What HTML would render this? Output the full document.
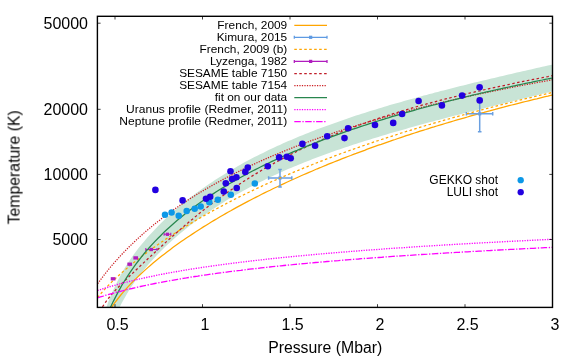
<!DOCTYPE html>
<html><head><meta charset="utf-8"><title>plot</title>
<style>html,body{margin:0;padding:0;background:#fff}body{width:581px;height:359px;overflow:hidden}</style>
</head><body>
<svg width="581" height="359" viewBox="0 0 581 359" style="display:block;font-family:'Liberation Sans',sans-serif">
<rect width="581" height="359" fill="#fff"/>
<defs><clipPath id="c"><rect x="97.4" y="16.3" width="455.1" height="291.09999999999997"/></clipPath></defs>
<g clip-path="url(#c)" fill="none">
<path d="M105.0,311.5 L107.8,303.3 L110.6,296.0 L113.5,289.4 L116.3,283.4 L119.1,277.9 L121.9,272.8 L124.7,268.0 L127.6,263.5 L130.4,259.3 L133.2,255.3 L136.0,251.4 L138.8,247.8 L141.7,244.2 L144.5,240.9 L147.3,237.6 L150.1,234.4 L153.0,231.4 L155.8,228.4 L158.6,225.5 L161.4,222.7 L164.2,220.0 L167.1,217.3 L169.9,214.7 L172.7,212.2 L175.5,209.7 L178.3,207.3 L181.2,204.9 L184.0,202.6 L186.8,200.3 L189.6,198.1 L192.4,195.9 L195.3,193.8 L198.1,191.7 L200.9,189.7 L203.7,187.7 L206.5,185.7 L209.4,183.8 L212.2,181.9 L215.0,180.0 L217.8,178.2 L220.7,176.4 L223.5,174.7 L226.3,172.9 L229.1,171.2 L231.9,169.6 L234.8,167.9 L237.6,166.3 L240.4,164.7 L243.2,163.1 L246.0,161.6 L248.9,160.1 L251.7,158.6 L254.5,157.1 L257.3,155.7 L260.1,154.3 L263.0,152.9 L265.8,151.5 L268.6,150.1 L271.4,148.8 L274.2,147.4 L277.1,146.1 L279.9,144.9 L282.7,143.6 L285.5,142.3 L288.3,141.1 L291.2,139.9 L294.0,138.7 L296.8,137.5 L299.6,136.3 L302.5,135.2 L305.3,134.0 L308.1,132.9 L310.9,131.8 L313.7,130.7 L316.6,129.6 L319.4,128.5 L322.2,127.5 L325.0,126.4 L327.8,125.4 L330.7,124.4 L333.5,123.4 L336.3,122.4 L339.1,121.4 L341.9,120.4 L344.8,119.4 L347.6,118.5 L350.4,117.5 L353.2,116.6 L356.0,115.6 L358.9,114.7 L361.7,113.8 L364.5,112.9 L367.3,112.0 L370.2,111.1 L373.0,110.3 L375.8,109.4 L378.6,108.5 L381.4,107.7 L384.3,106.8 L387.1,106.0 L389.9,105.1 L392.7,104.3 L395.5,103.5 L398.4,102.7 L401.2,101.9 L404.0,101.1 L406.8,100.3 L409.6,99.5 L412.5,98.7 L415.3,97.9 L418.1,97.1 L420.9,96.4 L423.7,95.6 L426.6,94.9 L429.4,94.1 L432.2,93.4 L435.0,92.6 L437.8,91.9 L440.7,91.1 L443.5,90.4 L446.3,89.7 L449.1,89.0 L452.0,88.2 L454.8,87.5 L457.6,86.8 L460.4,86.1 L463.2,85.4 L466.1,84.7 L468.9,84.0 L471.7,83.3 L474.5,82.6 L477.3,82.0 L480.2,81.3 L483.0,80.6 L485.8,79.9 L488.6,79.2 L491.4,78.6 L494.3,77.9 L497.1,77.2 L499.9,76.6 L502.7,75.9 L505.5,75.2 L508.4,74.6 L511.2,73.9 L514.0,73.3 L516.8,72.6 L519.7,72.0 L522.5,71.3 L525.3,70.7 L528.1,70.0 L530.9,69.4 L533.8,68.7 L536.6,68.1 L539.4,67.5 L542.2,66.8 L545.0,66.2 L547.9,65.6 L550.7,64.9 L553.5,64.3 L553.5,91.1 L550.8,91.8 L548.0,92.5 L545.3,93.1 L542.6,93.8 L539.8,94.5 L537.1,95.2 L534.3,95.8 L531.6,96.5 L528.9,97.2 L526.1,97.8 L523.4,98.5 L520.7,99.2 L517.9,99.8 L515.2,100.5 L512.5,101.2 L509.7,101.9 L507.0,102.5 L504.3,103.2 L501.5,103.9 L498.8,104.6 L496.0,105.2 L493.3,105.9 L490.6,106.6 L487.8,107.3 L485.1,108.0 L482.4,108.7 L479.6,109.3 L476.9,110.0 L474.2,110.7 L471.4,111.4 L468.7,112.1 L466.0,112.8 L463.2,113.5 L460.5,114.2 L457.7,114.9 L455.0,115.6 L452.3,116.3 L449.5,117.0 L446.8,117.8 L444.1,118.5 L441.3,119.2 L438.6,119.9 L435.9,120.6 L433.1,121.4 L430.4,122.1 L427.7,122.8 L424.9,123.6 L422.2,124.3 L419.4,125.1 L416.7,125.8 L414.0,126.6 L411.2,127.3 L408.5,128.1 L405.8,128.9 L403.0,129.7 L400.3,130.4 L397.6,131.2 L394.8,132.0 L392.1,132.8 L389.3,133.6 L386.6,134.4 L383.9,135.2 L381.1,136.0 L378.4,136.9 L375.7,137.7 L372.9,138.5 L370.2,139.4 L367.5,140.2 L364.7,141.1 L362.0,142.0 L359.3,142.8 L356.5,143.7 L353.8,144.6 L351.0,145.5 L348.3,146.4 L345.6,147.3 L342.8,148.3 L340.1,149.2 L337.4,150.1 L334.6,151.1 L331.9,152.1 L329.2,153.0 L326.4,154.0 L323.7,155.0 L321.0,156.0 L318.2,157.1 L315.5,158.1 L312.7,159.1 L310.0,160.2 L307.3,161.2 L304.5,162.3 L301.8,163.4 L299.1,164.5 L296.3,165.7 L293.6,166.8 L290.9,167.9 L288.1,169.1 L285.4,170.3 L282.7,171.5 L279.9,172.7 L277.2,173.9 L274.4,175.2 L271.7,176.5 L269.0,177.8 L266.2,179.1 L263.5,180.4 L260.8,181.7 L258.0,183.1 L255.3,184.5 L252.6,185.9 L249.8,187.3 L247.1,188.8 L244.3,190.2 L241.6,191.7 L238.9,193.3 L236.1,194.8 L233.4,196.4 L230.7,198.0 L227.9,199.6 L225.2,201.3 L222.5,203.0 L219.7,204.7 L217.0,206.4 L214.3,208.2 L211.5,210.0 L208.8,211.9 L206.0,213.7 L203.3,215.6 L200.6,217.6 L197.8,219.6 L195.1,221.6 L192.4,223.7 L189.6,225.8 L186.9,228.0 L184.2,230.2 L181.4,232.4 L178.7,234.7 L176.0,237.1 L173.2,239.5 L170.5,241.9 L167.7,244.5 L165.0,247.1 L162.3,249.7 L159.5,252.5 L156.8,255.3 L154.1,258.2 L151.3,261.2 L148.6,264.2 L145.9,267.4 L143.1,270.8 L140.4,274.2 L137.7,277.8 L134.9,281.6 L132.2,285.6 L129.4,289.8 L126.7,294.2 L124.0,299.0 L121.2,304.1 L118.5,309.6Z" fill="#c8e4d6" stroke="none"/>
<path d="M111.7,307.1 L114.5,303.2 L117.3,299.5 L120.0,296.0 L122.8,292.6 L125.6,289.5 L128.4,286.4 L131.2,283.4 L133.9,280.6 L136.7,277.9 L139.5,275.2 L142.3,272.6 L145.0,270.1 L147.8,267.6 L150.6,265.2 L153.4,262.8 L156.2,260.5 L158.9,258.3 L161.7,256.1 L164.5,253.9 L167.3,251.8 L170.1,249.7 L172.8,247.6 L175.6,245.6 L178.4,243.6 L181.2,241.6 L183.9,239.7 L186.7,237.8 L189.5,235.9 L192.3,234.1 L195.1,232.3 L197.8,230.5 L200.6,228.7 L203.4,226.9 L206.2,225.2 L209.0,223.5 L211.7,221.8 L214.5,220.1 L217.3,218.5 L220.1,216.8 L222.8,215.2 L225.6,213.6 L228.4,212.0 L231.2,210.5 L234.0,208.9 L236.7,207.4 L239.5,205.9 L242.3,204.4 L245.1,202.9 L247.9,201.4 L250.6,200.0 L253.4,198.5 L256.2,197.1 L259.0,195.7 L261.7,194.3 L264.5,192.9 L267.3,191.5 L270.1,190.2 L272.9,188.8 L275.6,187.5 L278.4,186.2 L281.2,184.9 L284.0,183.6 L286.8,182.3 L289.5,181.0 L292.3,179.7 L295.1,178.5 L297.9,177.2 L300.6,176.0 L303.4,174.8 L306.2,173.6 L309.0,172.4 L311.8,171.2 L314.5,170.0 L317.3,168.8 L320.1,167.7 L322.9,166.5 L325.7,165.4 L328.4,164.2 L331.2,163.1 L334.0,162.0 L336.8,160.9 L339.5,159.8 L342.3,158.7 L345.1,157.6 L347.9,156.5 L350.7,155.5 L353.4,154.4 L356.2,153.4 L359.0,152.3 L361.8,151.3 L364.6,150.3 L367.3,149.2 L370.1,148.2 L372.9,147.2 L375.7,146.2 L378.4,145.2 L381.2,144.3 L384.0,143.3 L386.8,142.3 L389.6,141.4 L392.3,140.4 L395.1,139.5 L397.9,138.5 L400.7,137.6 L403.5,136.7 L406.2,135.7 L409.0,134.8 L411.8,133.9 L414.6,133.0 L417.3,132.1 L420.1,131.2 L422.9,130.3 L425.7,129.5 L428.5,128.6 L431.2,127.7 L434.0,126.9 L436.8,126.0 L439.6,125.2 L442.4,124.3 L445.1,123.5 L447.9,122.7 L450.7,121.8 L453.5,121.0 L456.2,120.2 L459.0,119.4 L461.8,118.6 L464.6,117.8 L467.4,117.0 L470.1,116.2 L472.9,115.4 L475.7,114.7 L478.5,113.9 L481.3,113.1 L484.0,112.4 L486.8,111.6 L489.6,110.9 L492.4,110.1 L495.1,109.4 L497.9,108.6 L500.7,107.9 L503.5,107.2 L506.3,106.4 L509.0,105.7 L511.8,105.0 L514.6,104.3 L517.4,103.6 L520.2,102.9 L522.9,102.2 L525.7,101.5 L528.5,100.8 L531.3,100.1 L534.0,99.4 L536.8,98.8 L539.6,98.1 L542.4,97.4 L545.2,96.7 L547.9,96.1 L550.7,95.4 L553.5,94.8" stroke="#ffa500" stroke-width="1.25"/>
<g stroke="#6a9fe0" stroke-width="1.5"><path d="M268.6,178H291.8M268.6,176.2v3.6M291.8,176.2v3.6M280,169.5V187.0M278.2,169.5h3.6M278.2,187.0h3.6"/></g>
<rect x="278.4" y="176.4" width="3.2" height="3.2" fill="#6a9fe0"/>
<g stroke="#6a9fe0" stroke-width="1.5"><path d="M466.4,113.8H492.7M466.4,112.0v3.6M492.7,112.0v3.6M479.7,98.8V131.7M477.9,98.8h3.6M477.9,131.7h3.6"/></g>
<rect x="478.09999999999997" y="112.2" width="3.2" height="3.2" fill="#6a9fe0"/>
<path d="M97.5,297.5 L100.4,294.1 L103.2,290.9 L106.1,287.8 L109.0,284.8 L111.8,281.9 L114.7,279.2 L117.6,276.5 L120.4,273.9 L123.3,271.4 L126.2,268.9 L129.0,266.5 L131.9,264.1 L134.8,261.8 L137.7,259.5 L140.5,257.3 L143.4,255.1 L146.3,253.0 L149.1,250.8 L152.0,248.8 L154.9,246.7 L157.7,244.7 L160.6,242.7 L163.5,240.8 L166.3,238.8 L169.2,236.9 L172.1,235.1 L174.9,233.2 L177.8,231.4 L180.7,229.6 L183.5,227.8 L186.4,226.0 L189.3,224.3 L192.1,222.6 L195.0,220.9 L197.9,219.2 L200.7,217.6 L203.6,215.9 L206.5,214.3 L209.3,212.7 L212.2,211.1 L215.1,209.5 L218.0,208.0 L220.8,206.5 L223.7,205.0 L226.6,203.4 L229.4,202.0 L232.3,200.5 L235.2,199.0 L238.0,197.6 L240.9,196.2 L243.8,194.8 L246.6,193.4 L249.5,192.0 L252.4,190.6 L255.2,189.2 L258.1,187.9 L261.0,186.6 L263.8,185.2 L266.7,183.9 L269.6,182.6 L272.4,181.3 L275.3,180.1 L278.2,178.8 L281.0,177.6 L283.9,176.3 L286.8,175.1 L289.7,173.9 L292.5,172.7 L295.4,171.5 L298.3,170.3 L301.1,169.1 L304.0,167.9 L306.9,166.8 L309.7,165.6 L312.6,164.5 L315.5,163.3 L318.3,162.2 L321.2,161.1 L324.1,160.0 L326.9,158.9 L329.8,157.8 L332.7,156.7 L335.5,155.6 L338.4,154.6 L341.3,153.5 L344.1,152.5 L347.0,151.4 L349.9,150.4 L352.7,149.4 L355.6,148.4 L358.5,147.4 L361.3,146.3 L364.2,145.4 L367.1,144.4 L370.0,143.4 L372.8,142.4 L375.7,141.4 L378.6,140.5 L381.4,139.5 L384.3,138.6 L387.2,137.6 L390.0,136.7 L392.9,135.8 L395.8,134.9 L398.6,133.9 L401.5,133.0 L404.4,132.1 L407.2,131.2 L410.1,130.4 L413.0,129.5 L415.8,128.6 L418.7,127.7 L421.6,126.8 L424.4,126.0 L427.3,125.1 L430.2,124.3 L433.0,123.4 L435.9,122.6 L438.8,121.8 L441.7,120.9 L444.5,120.1 L447.4,119.3 L450.3,118.5 L453.1,117.7 L456.0,116.9 L458.9,116.1 L461.7,115.3 L464.6,114.5 L467.5,113.7 L470.3,112.9 L473.2,112.1 L476.1,111.4 L478.9,110.6 L481.8,109.8 L484.7,109.1 L487.5,108.3 L490.4,107.6 L493.3,106.8 L496.1,106.1 L499.0,105.4 L501.9,104.6 L504.7,103.9 L507.6,103.2 L510.5,102.5 L513.3,101.8 L516.2,101.0 L519.1,100.3 L522.0,99.6 L524.8,98.9 L527.7,98.3 L530.6,97.6 L533.4,96.9 L536.3,96.2 L539.2,95.5 L542.0,94.8 L544.9,94.2 L547.8,93.5 L550.6,92.8 L553.5,92.2" stroke="#ffa500" stroke-width="1.25" stroke-dasharray="2.55,2.42"/>
<rect x="110.75" y="277.15" width="4.7" height="3.3" fill="#b01cbe"/>
<rect x="127.35" y="262.55" width="4.7" height="3.3" fill="#b01cbe"/>
<rect x="133.35" y="256.25" width="4.7" height="3.3" fill="#b01cbe"/>
<path d="M145.8,249.5H157.0M145.8,248.0v3M157.0,248.0v3" stroke="#b01cbe" stroke-width="1.1"/>
<rect x="149.80" y="247.85" width="3.2" height="3.3" fill="#b01cbe"/>
<path d="M164.1,234.3H170.8M164.1,232.8v3M170.8,232.8v3" stroke="#b01cbe" stroke-width="1.1"/>
<rect x="165.80" y="232.65" width="3.2" height="3.3" fill="#b01cbe"/>
<path d="M102.5,306.9 L105.3,302.5 L108.2,298.7 L111.0,295.2 L113.8,292.0 L116.7,288.9 L119.5,286.0 L122.4,283.2 L125.2,280.4 L128.0,277.6 L130.9,274.9 L133.7,272.2 L136.5,269.5 L139.4,266.8 L142.2,264.2 L145.0,261.5 L147.9,258.8 L150.7,256.2 L153.6,253.5 L156.4,250.9 L159.2,248.3 L162.1,245.7 L164.9,243.1 L167.7,240.5 L170.6,238.0 L173.4,235.5 L176.2,233.0 L179.1,230.5 L181.9,228.0 L184.8,225.6 L187.6,223.2 L190.4,220.8 L193.3,218.5 L196.1,216.1 L198.9,213.8 L201.8,211.6 L204.6,209.3 L207.4,207.1 L210.3,204.9 L213.1,202.8 L216.0,200.7 L218.8,198.6 L221.6,196.5 L224.5,194.5 L227.3,192.5 L230.1,190.5 L233.0,188.5 L235.8,186.6 L238.7,184.7 L241.5,182.8 L244.3,181.0 L247.2,179.2 L250.0,177.4 L252.8,175.6 L255.7,173.9 L258.5,172.2 L261.3,170.5 L264.2,168.8 L267.0,167.2 L269.9,165.6 L272.7,164.0 L275.5,162.4 L278.4,160.9 L281.2,159.4 L284.0,157.9 L286.9,156.4 L289.7,154.9 L292.5,153.5 L295.4,152.1 L298.2,150.7 L301.1,149.3 L303.9,148.0 L306.7,146.6 L309.6,145.3 L312.4,144.0 L315.2,142.8 L318.1,141.5 L320.9,140.3 L323.7,139.0 L326.6,137.8 L329.4,136.6 L332.3,135.5 L335.1,134.3 L337.9,133.2 L340.8,132.0 L343.6,130.9 L346.4,129.8 L349.3,128.8 L352.1,127.7 L354.9,126.6 L357.8,125.6 L360.6,124.6 L363.5,123.6 L366.3,122.6 L369.1,121.6 L372.0,120.6 L374.8,119.6 L377.6,118.7 L380.5,117.8 L383.3,116.8 L386.1,115.9 L389.0,115.0 L391.8,114.1 L394.7,113.2 L397.5,112.4 L400.3,111.5 L403.2,110.6 L406.0,109.8 L408.8,109.0 L411.7,108.1 L414.5,107.3 L417.3,106.5 L420.2,105.7 L423.0,104.9 L425.9,104.2 L428.7,103.4 L431.5,102.6 L434.4,101.9 L437.2,101.1 L440.0,100.4 L442.9,99.7 L445.7,98.9 L448.6,98.2 L451.4,97.5 L454.2,96.8 L457.1,96.1 L459.9,95.4 L462.7,94.7 L465.6,94.1 L468.4,93.4 L471.2,92.7 L474.1,92.1 L476.9,91.4 L479.8,90.8 L482.6,90.1 L485.4,89.5 L488.3,88.8 L491.1,88.2 L493.9,87.6 L496.8,87.0 L499.6,86.4 L502.4,85.8 L505.3,85.2 L508.1,84.6 L511.0,84.0 L513.8,83.4 L516.6,82.8 L519.5,82.2 L522.3,81.6 L525.1,81.0 L528.0,80.5 L530.8,79.9 L533.6,79.3 L536.5,78.8 L539.3,78.2 L542.2,77.7 L545.0,77.1 L547.8,76.6 L550.7,76.0 L553.5,75.5" stroke="#c01c28" stroke-width="1.25" stroke-dasharray="2.55,2.42"/>
<path d="M97.7,283.6 L100.6,279.6 L103.4,275.9 L106.3,272.2 L109.2,268.7 L112.0,265.3 L114.9,262.0 L117.8,258.8 L120.6,255.6 L123.5,252.6 L126.4,249.6 L129.2,246.8 L132.1,244.0 L135.0,241.2 L137.8,238.6 L140.7,236.0 L143.6,233.4 L146.4,230.9 L149.3,228.5 L152.2,226.1 L155.0,223.8 L157.9,221.5 L160.8,219.3 L163.6,217.1 L166.5,214.9 L169.4,212.8 L172.2,210.8 L175.1,208.7 L178.0,206.7 L180.8,204.8 L183.7,202.9 L186.6,201.0 L189.4,199.1 L192.3,197.3 L195.2,195.5 L198.0,193.7 L200.9,192.0 L203.8,190.3 L206.6,188.6 L209.5,187.0 L212.4,185.3 L215.2,183.7 L218.1,182.1 L221.0,180.6 L223.8,179.0 L226.7,177.5 L229.6,176.0 L232.4,174.6 L235.3,173.1 L238.2,171.7 L241.0,170.3 L243.9,168.9 L246.8,167.5 L249.6,166.2 L252.5,164.8 L255.4,163.5 L258.2,162.2 L261.1,160.9 L264.0,159.6 L266.8,158.4 L269.7,157.1 L272.6,155.9 L275.4,154.7 L278.3,153.5 L281.2,152.3 L284.0,151.2 L286.9,150.0 L289.8,148.9 L292.6,147.7 L295.5,146.6 L298.4,145.5 L301.2,144.4 L304.1,143.4 L307.0,142.3 L309.8,141.2 L312.7,140.2 L315.6,139.2 L318.4,138.1 L321.3,137.1 L324.2,136.1 L327.0,135.1 L329.9,134.2 L332.8,133.2 L335.6,132.2 L338.5,131.3 L341.4,130.3 L344.2,129.4 L347.1,128.5 L350.0,127.6 L352.8,126.7 L355.7,125.8 L358.6,124.9 L361.4,124.0 L364.3,123.2 L367.2,122.3 L370.0,121.4 L372.9,120.6 L375.8,119.8 L378.6,118.9 L381.5,118.1 L384.4,117.3 L387.2,116.5 L390.1,115.7 L393.0,114.9 L395.8,114.1 L398.7,113.4 L401.6,112.6 L404.4,111.8 L407.3,111.1 L410.2,110.3 L413.0,109.6 L415.9,108.8 L418.8,108.1 L421.6,107.4 L424.5,106.7 L427.4,105.9 L430.2,105.2 L433.1,104.5 L436.0,103.8 L438.8,103.2 L441.7,102.5 L444.6,101.8 L447.4,101.1 L450.3,100.5 L453.2,99.8 L456.0,99.1 L458.9,98.5 L461.8,97.9 L464.6,97.2 L467.5,96.6 L470.4,95.9 L473.2,95.3 L476.1,94.7 L479.0,94.1 L481.8,93.5 L484.7,92.9 L487.6,92.3 L490.4,91.7 L493.3,91.1 L496.2,90.5 L499.0,89.9 L501.9,89.3 L504.8,88.8 L507.6,88.2 L510.5,87.6 L513.4,87.1 L516.2,86.5 L519.1,86.0 L522.0,85.4 L524.8,84.9 L527.7,84.3 L530.6,83.8 L533.4,83.3 L536.3,82.7 L539.2,82.2 L542.0,81.7 L544.9,81.2 L547.8,80.7 L550.6,80.1 L553.5,79.6" stroke="#cc2024" stroke-width="1.25" stroke-dasharray="1.25,1.27"/>
<path d="M110.4,307.5 L113.2,301.6 L116.0,296.1 L118.8,290.9 L121.5,285.9 L124.3,281.3 L127.1,276.9 L129.9,272.6 L132.7,268.6 L135.5,264.7 L138.3,261.0 L141.1,257.4 L143.8,254.0 L146.6,250.7 L149.4,247.5 L152.2,244.4 L155.0,241.4 L157.8,238.5 L160.6,235.7 L163.3,232.9 L166.1,230.3 L168.9,227.7 L171.7,225.2 L174.5,222.7 L177.3,220.3 L180.1,218.0 L182.9,215.7 L185.6,213.5 L188.4,211.3 L191.2,209.2 L194.0,207.1 L196.8,205.0 L199.6,203.0 L202.4,201.1 L205.2,199.1 L207.9,197.2 L210.7,195.4 L213.5,193.6 L216.3,191.8 L219.1,190.0 L221.9,188.3 L224.7,186.6 L227.4,184.9 L230.2,183.3 L233.0,181.7 L235.8,180.1 L238.6,178.5 L241.4,177.0 L244.2,175.5 L247.0,174.0 L249.7,172.5 L252.5,171.0 L255.3,169.6 L258.1,168.2 L260.9,166.8 L263.7,165.4 L266.5,164.1 L269.2,162.7 L272.0,161.4 L274.8,160.1 L277.6,158.8 L280.4,157.6 L283.2,156.3 L286.0,155.1 L288.8,153.8 L291.5,152.6 L294.3,151.4 L297.1,150.3 L299.9,149.1 L302.7,147.9 L305.5,146.8 L308.3,145.7 L311.0,144.6 L313.8,143.5 L316.6,142.4 L319.4,141.3 L322.2,140.2 L325.0,139.2 L327.8,138.1 L330.6,137.1 L333.3,136.1 L336.1,135.1 L338.9,134.1 L341.7,133.1 L344.5,132.1 L347.3,131.1 L350.1,130.2 L352.9,129.2 L355.6,128.3 L358.4,127.3 L361.2,126.4 L364.0,125.5 L366.8,124.6 L369.6,123.7 L372.4,122.8 L375.1,121.9 L377.9,121.0 L380.7,120.1 L383.5,119.3 L386.3,118.4 L389.1,117.6 L391.9,116.7 L394.7,115.9 L397.4,115.1 L400.2,114.3 L403.0,113.5 L405.8,112.7 L408.6,111.9 L411.4,111.1 L414.2,110.3 L416.9,109.5 L419.7,108.7 L422.5,108.0 L425.3,107.2 L428.1,106.5 L430.9,105.7 L433.7,105.0 L436.5,104.3 L439.2,103.5 L442.0,102.8 L444.8,102.1 L447.6,101.4 L450.4,100.7 L453.2,100.0 L456.0,99.3 L458.7,98.6 L461.5,97.9 L464.3,97.2 L467.1,96.5 L469.9,95.9 L472.7,95.2 L475.5,94.5 L478.3,93.9 L481.0,93.2 L483.8,92.6 L486.6,91.9 L489.4,91.3 L492.2,90.7 L495.0,90.0 L497.8,89.4 L500.6,88.8 L503.3,88.2 L506.1,87.6 L508.9,87.0 L511.7,86.4 L514.5,85.8 L517.3,85.2 L520.1,84.6 L522.8,84.0 L525.6,83.4 L528.4,82.8 L531.2,82.3 L534.0,81.7 L536.8,81.1 L539.6,80.5 L542.4,80.0 L545.1,79.4 L547.9,78.9 L550.7,78.3 L553.5,77.8" stroke="#28864e" stroke-width="1.25"/>
<path d="M97.5,290.5 L100.4,289.6 L103.2,288.7 L106.1,287.8 L109.0,287.0 L111.8,286.1 L114.7,285.3 L117.6,284.5 L120.4,283.7 L123.3,282.9 L126.2,282.2 L129.0,281.5 L131.9,280.8 L134.8,280.1 L137.7,279.4 L140.5,278.7 L143.4,278.1 L146.3,277.5 L149.1,276.9 L152.0,276.3 L154.9,275.7 L157.7,275.1 L160.6,274.5 L163.5,274.0 L166.3,273.4 L169.2,272.9 L172.1,272.4 L174.9,271.9 L177.8,271.4 L180.7,270.9 L183.5,270.4 L186.4,269.9 L189.3,269.4 L192.1,269.0 L195.0,268.5 L197.9,268.1 L200.7,267.7 L203.6,267.2 L206.5,266.8 L209.3,266.4 L212.2,266.0 L215.1,265.6 L218.0,265.2 L220.8,264.8 L223.7,264.4 L226.6,264.0 L229.4,263.7 L232.3,263.3 L235.2,262.9 L238.0,262.6 L240.9,262.2 L243.8,261.9 L246.6,261.5 L249.5,261.2 L252.4,260.8 L255.2,260.5 L258.1,260.2 L261.0,259.9 L263.8,259.6 L266.7,259.2 L269.6,258.9 L272.4,258.6 L275.3,258.3 L278.2,258.0 L281.0,257.7 L283.9,257.4 L286.8,257.1 L289.7,256.9 L292.5,256.6 L295.4,256.3 L298.3,256.0 L301.1,255.8 L304.0,255.5 L306.9,255.2 L309.7,255.0 L312.6,254.7 L315.5,254.4 L318.3,254.2 L321.2,253.9 L324.1,253.7 L326.9,253.4 L329.8,253.2 L332.7,252.9 L335.5,252.7 L338.4,252.5 L341.3,252.2 L344.1,252.0 L347.0,251.8 L349.9,251.5 L352.7,251.3 L355.6,251.1 L358.5,250.9 L361.3,250.6 L364.2,250.4 L367.1,250.2 L370.0,250.0 L372.8,249.8 L375.7,249.6 L378.6,249.4 L381.4,249.2 L384.3,248.9 L387.2,248.7 L390.0,248.5 L392.9,248.3 L395.8,248.1 L398.6,247.9 L401.5,247.8 L404.4,247.6 L407.2,247.4 L410.1,247.2 L413.0,247.0 L415.8,246.8 L418.7,246.6 L421.6,246.4 L424.4,246.2 L427.3,246.1 L430.2,245.9 L433.0,245.7 L435.9,245.5 L438.8,245.4 L441.7,245.2 L444.5,245.0 L447.4,244.8 L450.3,244.7 L453.1,244.5 L456.0,244.3 L458.9,244.2 L461.7,244.0 L464.6,243.8 L467.5,243.7 L470.3,243.5 L473.2,243.3 L476.1,243.2 L478.9,243.0 L481.8,242.9 L484.7,242.7 L487.5,242.6 L490.4,242.4 L493.3,242.3 L496.1,242.1 L499.0,242.0 L501.9,241.8 L504.7,241.7 L507.6,241.5 L510.5,241.4 L513.3,241.2 L516.2,241.1 L519.1,240.9 L522.0,240.8 L524.8,240.6 L527.7,240.5 L530.6,240.4 L533.4,240.2 L536.3,240.1 L539.2,239.9 L542.0,239.8 L544.9,239.7 L547.8,239.5 L550.6,239.4 L553.5,239.3" stroke="#ff00ff" stroke-width="1.35" stroke-dasharray="1.25,1.27"/>
<path d="M97.5,297.8 L100.4,296.9 L103.2,296.1 L106.1,295.2 L109.0,294.4 L111.8,293.6 L114.7,292.8 L117.6,292.0 L120.4,291.3 L123.3,290.6 L126.2,289.8 L129.0,289.1 L131.9,288.5 L134.8,287.8 L137.7,287.1 L140.5,286.5 L143.4,285.9 L146.3,285.3 L149.1,284.7 L152.0,284.1 L154.9,283.5 L157.7,282.9 L160.6,282.4 L163.5,281.8 L166.3,281.3 L169.2,280.8 L172.1,280.3 L174.9,279.8 L177.8,279.3 L180.7,278.8 L183.5,278.3 L186.4,277.9 L189.3,277.4 L192.1,276.9 L195.0,276.5 L197.9,276.1 L200.7,275.6 L203.6,275.2 L206.5,274.8 L209.3,274.4 L212.2,274.0 L215.1,273.6 L218.0,273.2 L220.8,272.8 L223.7,272.4 L226.6,272.1 L229.4,271.7 L232.3,271.3 L235.2,271.0 L238.0,270.6 L240.9,270.3 L243.8,269.9 L246.6,269.6 L249.5,269.2 L252.4,268.9 L255.2,268.6 L258.1,268.3 L261.0,267.9 L263.8,267.6 L266.7,267.3 L269.6,267.0 L272.4,266.7 L275.3,266.4 L278.2,266.1 L281.0,265.8 L283.9,265.5 L286.8,265.2 L289.7,264.9 L292.5,264.7 L295.4,264.4 L298.3,264.1 L301.1,263.8 L304.0,263.6 L306.9,263.3 L309.7,263.0 L312.6,262.8 L315.5,262.5 L318.3,262.3 L321.2,262.0 L324.1,261.8 L326.9,261.5 L329.8,261.3 L332.7,261.0 L335.5,260.8 L338.4,260.6 L341.3,260.3 L344.1,260.1 L347.0,259.9 L349.9,259.6 L352.7,259.4 L355.6,259.2 L358.5,259.0 L361.3,258.7 L364.2,258.5 L367.1,258.3 L370.0,258.1 L372.8,257.9 L375.7,257.7 L378.6,257.5 L381.4,257.3 L384.3,257.0 L387.2,256.8 L390.0,256.6 L392.9,256.4 L395.8,256.2 L398.6,256.0 L401.5,255.9 L404.4,255.7 L407.2,255.5 L410.1,255.3 L413.0,255.1 L415.8,254.9 L418.7,254.7 L421.6,254.5 L424.4,254.3 L427.3,254.2 L430.2,254.0 L433.0,253.8 L435.9,253.6 L438.8,253.5 L441.7,253.3 L444.5,253.1 L447.4,252.9 L450.3,252.8 L453.1,252.6 L456.0,252.4 L458.9,252.3 L461.7,252.1 L464.6,251.9 L467.5,251.8 L470.3,251.6 L473.2,251.4 L476.1,251.3 L478.9,251.1 L481.8,251.0 L484.7,250.8 L487.5,250.6 L490.4,250.5 L493.3,250.3 L496.1,250.2 L499.0,250.0 L501.9,249.9 L504.7,249.7 L507.6,249.6 L510.5,249.4 L513.3,249.3 L516.2,249.1 L519.1,249.0 L522.0,248.8 L524.8,248.7 L527.7,248.6 L530.6,248.4 L533.4,248.3 L536.3,248.1 L539.2,248.0 L542.0,247.9 L544.9,247.7 L547.8,247.6 L550.6,247.5 L553.5,247.3" stroke="#ff00ff" stroke-width="1.35" stroke-dasharray="6.5,1.6,1.3,1.5"/>
<circle cx="165" cy="214.8" r="3.25" fill="#0c98e7"/>
<circle cx="171.6" cy="212.6" r="3.25" fill="#0c98e7"/>
<circle cx="178.7" cy="215.8" r="3.25" fill="#0c98e7"/>
<circle cx="186.7" cy="210.9" r="3.25" fill="#0c98e7"/>
<circle cx="194.7" cy="208.8" r="3.25" fill="#0c98e7"/>
<circle cx="200.7" cy="206.6" r="3.25" fill="#0c98e7"/>
<circle cx="209.3" cy="202.3" r="3.25" fill="#0c98e7"/>
<circle cx="217.8" cy="199.7" r="3.25" fill="#0c98e7"/>
<circle cx="230.8" cy="194.7" r="3.25" fill="#0c98e7"/>
<circle cx="254.8" cy="183.5" r="3.25" fill="#0c98e7"/>
<circle cx="155.4" cy="189.9" r="3.3" fill="#2200e0"/>
<circle cx="182.6" cy="200.4" r="3.3" fill="#2200e0"/>
<circle cx="206.0" cy="198.8" r="3.3" fill="#2200e0"/>
<circle cx="210.2" cy="196.8" r="3.3" fill="#2200e0"/>
<circle cx="223.8" cy="191.5" r="3.3" fill="#2200e0"/>
<circle cx="236.7" cy="188" r="3.3" fill="#2200e0"/>
<circle cx="230.5" cy="171.2" r="3.3" fill="#2200e0"/>
<circle cx="247.8" cy="167.6" r="3.3" fill="#2200e0"/>
<circle cx="245.3" cy="171.9" r="3.3" fill="#2200e0"/>
<circle cx="236.4" cy="177.2" r="3.3" fill="#2200e0"/>
<circle cx="232.1" cy="179.0" r="3.3" fill="#2200e0"/>
<circle cx="225.8" cy="183.3" r="3.3" fill="#2200e0"/>
<circle cx="267.8" cy="166.2" r="3.3" fill="#2200e0"/>
<circle cx="279.1" cy="157.4" r="3.3" fill="#2200e0"/>
<circle cx="286.9" cy="156.8" r="3.3" fill="#2200e0"/>
<circle cx="290.7" cy="158.2" r="3.3" fill="#2200e0"/>
<circle cx="302.4" cy="143.9" r="3.3" fill="#2200e0"/>
<circle cx="315.1" cy="145.7" r="3.3" fill="#2200e0"/>
<circle cx="327.2" cy="136.2" r="3.3" fill="#2200e0"/>
<circle cx="348.1" cy="128.3" r="3.3" fill="#2200e0"/>
<circle cx="344.5" cy="138.1" r="3.3" fill="#2200e0"/>
<circle cx="375" cy="125" r="3.3" fill="#2200e0"/>
<circle cx="393.2" cy="122.9" r="3.3" fill="#2200e0"/>
<circle cx="402.1" cy="114.0" r="3.3" fill="#2200e0"/>
<circle cx="418.6" cy="101.0" r="3.3" fill="#2200e0"/>
<circle cx="441.9" cy="105.4" r="3.3" fill="#2200e0"/>
<circle cx="462.1" cy="95.6" r="3.3" fill="#2200e0"/>
<circle cx="479.6" cy="87.3" r="3.3" fill="#2200e0"/>
<circle cx="479.7" cy="100.4" r="3.3" fill="#2200e0"/>
</g>
<g stroke="#000" fill="none"><rect x="97.4" y="16.3" width="455.1" height="291.09999999999997" stroke-width="1.4"/>
<path d="M115.0,307.4v-3.2M115.0,16.3v3.2M202.5,307.4v-3.2M202.5,16.3v3.2M290.0,307.4v-3.2M290.0,16.3v3.2M377.5,307.4v-3.2M377.5,16.3v3.2M465.0,307.4v-3.2M465.0,16.3v3.2M97.4,239.5h3.2M552.5,239.5h-3.2M97.4,174.4h3.2M552.5,174.4h-3.2M97.4,109.3h3.2M552.5,109.3h-3.2M97.4,23.2h3.2M552.5,23.2h-3.2" stroke-width="0.75"/></g>
<g font-size="16px" fill="#000" style="opacity:0.999">
<text x="88" y="245.2" text-anchor="end">5000</text>
<text x="88" y="180.1" text-anchor="end">10000</text>
<text x="88" y="115.0" text-anchor="end">20000</text>
<text x="88" y="28.9" text-anchor="end">50000</text>
<text x="117.5" y="329.5" text-anchor="middle">0.5</text>
<text x="205.0" y="329.5" text-anchor="middle">1</text>
<text x="292.5" y="329.5" text-anchor="middle">1.5</text>
<text x="380.0" y="329.5" text-anchor="middle">2</text>
<text x="467.5" y="329.5" text-anchor="middle">2.5</text>
<text x="555.0" y="329.5" text-anchor="middle">3</text>
<text x="325.2" y="353" text-anchor="middle" font-size="15.8px">Pressure (Mbar)</text>
<text transform="translate(19.6,167.3) rotate(-90)" text-anchor="middle" font-size="15.8px">Temperature (K)</text>
</g>
<g font-size="10.5px" fill="#000" text-anchor="end" style="opacity:0.999">
<text transform="translate(287.2,29.05) scale(1.1304,1)">French, 2009</text>
<text transform="translate(287.2,41.09) scale(1.1304,1)">Kimura, 2015</text>
<text transform="translate(287.2,53.13) scale(1.1304,1)">French, 2009 (b)</text>
<text transform="translate(287.2,65.17) scale(1.1304,1)">Lyzenga, 1982</text>
<text transform="translate(287.2,77.21) scale(1.1304,1)">SESAME table 7150</text>
<text transform="translate(287.2,89.25) scale(1.1304,1)">SESAME table 7154</text>
<text transform="translate(287.2,101.29) scale(1.1304,1)">fit on our data</text>
<text transform="translate(287.2,113.33) scale(1.1476,1)">Uranus profile (Redmer, 2011)</text>
<text transform="translate(287.2,125.37) scale(1.1476,1)">Neptune profile (Redmer, 2011)</text>
</g>
<g fill="none" stroke-width="1.25">
<path d="M294.3,25.3H327.0" stroke="#ffa500"/>
<path d="M294.3,37.3H327.0M294.3,35.8v3M327.0,35.8v3" stroke="#5e9ae2"/><rect x="309.04999999999995" y="35.7" width="3.2" height="3.2" fill="#5e9ae2"/>
<path d="M294.3,49.4H327.0" stroke="#ffa500" stroke-dasharray="2.55,2.42"/>
<path d="M294.3,61.4H327.0M294.3,59.9v3M327.0,59.9v3" stroke="#b01cbe"/><rect x="309.04999999999995" y="59.8" width="3.2" height="3.2" fill="#b01cbe"/>
<path d="M294.3,73.5H327.0" stroke="#c01c28" stroke-dasharray="2.55,2.42"/>
<path d="M294.3,85.5H327.0" stroke="#cc2024" stroke-dasharray="1.25,1.27"/>
<path d="M294.3,97.5H327.0" stroke="#28864e"/>
<path d="M294.3,109.6H327.0" stroke="#ff00ff" stroke-dasharray="1.25,1.27"/>
<path d="M294.3,121.6H327.0" stroke="#ff00ff" stroke-dasharray="6.5,1.6,1.3,1.5"/>
</g>
<g font-size="12px" fill="#000" text-anchor="end" style="opacity:0.999">
<text x="498" y="184">GEKKO shot</text><text x="498" y="196">LULI shot</text></g>
<circle cx="520.7" cy="180.2" r="3.15" fill="#0c98e7"/><circle cx="520.7" cy="192.2" r="3.15" fill="#2200e0"/>
</svg>
</body></html>
